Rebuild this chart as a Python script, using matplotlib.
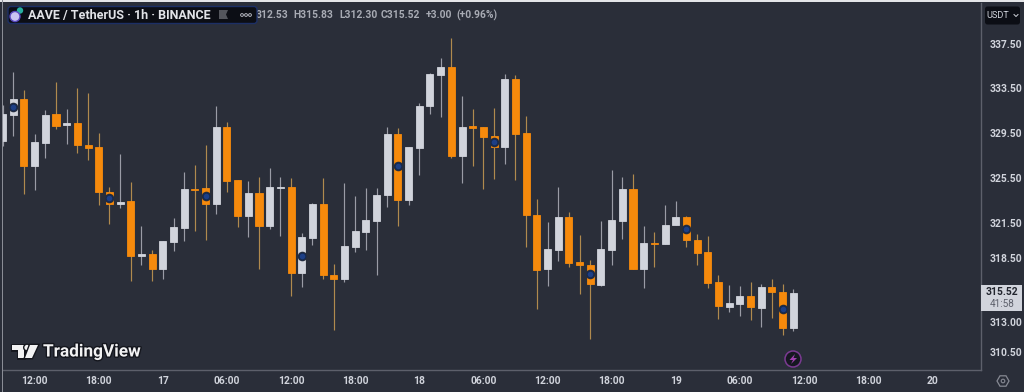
import matplotlib
matplotlib.use('Agg')
import matplotlib.pyplot as plt
import matplotlib.patheffects as pe
from matplotlib.patches import Circle, FancyBboxPatch, Polygon, Rectangle
import numpy as np

# hourly candles, 16th 09:00 .. 19th 11:00
opens = [328.75, 331.08, 332.51, 326.54, 328.58, 331.17, 330.19, 330.36, 328.40, 328.22,
         324.25, 323.19, 323.45, 318.68, 318.86, 317.57, 319.89, 321.11, 324.51, 324.60,
         323.19, 330.01, 325.30, 322.15, 324.16, 321.28, 324.60, 324.69, 317.22, 320.24,
         323.19, 317.05, 316.71, 319.46, 320.76, 321.72, 323.98, 329.38, 323.54, 328.13,
         331.88, 334.69, 335.41, 327.42, 330.10, 330.01, 329.20, 328.22, 334.32, 329.47,
         322.24, 317.57, 319.20, 322.06, 318.17, 317.91, 316.19, 319.20, 321.72, 324.51,
         317.57, 319.81, 319.72, 321.37, 322.06, 320.07, 319.03, 316.45, 314.31, 314.56,
         315.24, 314.22, 316.02, 315.59, 312.53]
highs = [331.97, 334.96, 333.33, 329.38, 331.53, 334.05, 331.62, 333.51, 333.05, 329.47,
         324.69, 327.60, 325.13, 321.28, 319.20, 319.98, 321.98, 326.01, 326.63, 328.40,
         331.88, 330.45, 325.30, 325.22, 325.57, 326.36, 325.57, 325.48, 320.68, 323.28,
         325.48, 318.00, 325.04, 323.89, 324.60, 324.60, 330.01, 329.92, 328.22, 332.15,
         334.87, 336.23, 338.04, 332.78, 331.62, 330.01, 331.70, 334.78, 334.69, 330.99,
         323.63, 321.63, 324.69, 322.50, 320.50, 318.34, 321.72, 326.19, 325.57, 325.83,
         321.28, 320.76, 323.11, 323.45, 322.15, 320.59, 320.42, 317.05, 316.19, 316.10,
         316.45, 316.28, 316.71, 316.28, 315.83]
lows = [328.31, 329.20, 324.07, 324.42, 327.24, 329.83, 328.49, 327.69, 327.07, 323.11,
        321.46, 322.85, 316.53, 317.91, 316.53, 316.71, 319.11, 319.98, 320.85, 320.07,
        322.32, 324.25, 321.20, 320.33, 317.57, 321.02, 320.42, 315.24, 316.02, 319.63,
        316.71, 312.36, 316.45, 319.03, 319.20, 317.05, 322.93, 321.28, 323.11, 325.75,
        331.17, 330.90, 327.24, 325.04, 326.54, 324.51, 325.39, 326.72, 325.30, 319.46,
        314.14, 316.10, 318.25, 317.74, 315.42, 311.60, 316.10, 317.91, 320.15, 317.57,
        315.93, 317.74, 319.72, 321.37, 319.46, 317.91, 315.93, 313.29, 313.88, 313.55,
        313.21, 312.62, 313.38, 311.94, 312.30]
closes = [331.17, 332.51, 326.54, 328.67, 331.08, 330.10, 330.36, 328.40, 328.13, 324.25,
          323.19, 323.37, 318.68, 318.86, 317.57, 319.98, 321.20, 324.51, 324.42, 323.19,
          330.01, 325.22, 322.15, 324.16, 321.28, 324.69, 324.69, 317.22, 320.33, 323.19,
          317.05, 316.71, 319.55, 320.85, 321.80, 323.98, 329.38, 323.54, 328.22, 331.88,
          334.78, 335.41, 327.42, 330.01, 329.92, 329.11, 328.22, 334.32, 329.38, 322.24,
          317.48, 319.29, 322.06, 318.08, 317.91, 316.28, 319.29, 321.80, 324.51, 317.57,
          319.81, 319.72, 321.37, 322.06, 320.07, 318.94, 316.36, 314.39, 314.65, 315.24,
          314.31, 316.02, 315.59, 312.53, 315.52]

event_idx = [1, 10, 19, 28, 37, 46, 55, 64, 73]
event_price = [331.79, 323.72, 323.89, 318.68, 326.54, 328.67, 317.14, 321.02, 314.14]

time_ticks = [3, 9, 15, 21, 27, 33, 39, 45, 51, 57, 63, 69, 75, 81, 87]
time_labels = ['12:00', '18:00', '17', '06:00', '12:00', '18:00', '18', '06:00', '12:00',
               '18:00', '19', '06:00', '12:00', '18:00', '20']
price_ticks = [337.5, 333.5, 329.5, 325.5, 321.5, 318.5, 313.0, 310.5]
last_price = closes[-1]
legend_items = ['312.53', 'H315.83', 'L312.30', 'C315.52', '+3.00', '(+0.96%)']
legend_x = [256, 293, 339, 381, 426, 456]

BG = '#2a2e39'
UP = '#d1d4dc'
DOWN = '#f68a0c'
TEXT = '#d1d4dc'
plt.rcParams['font.family'] = ['Roboto', 'DejaVu Sans']

fig = plt.figure(figsize=(10.24, 3.92), dpi=100, facecolor=BG)
ax = fig.add_axes([3 / 1024, 22 / 392, 978 / 1024, 367 / 392], facecolor=BG)

idx = np.arange(len(opens))
o, h, l, c = map(np.array, (opens, highs, lows, closes))
up = c >= o
colors = np.where(up, UP, DOWN)
wick_colors = np.where(up, '#9a9ca6', '#b08a4e')

ax.vlines(idx, l, h, colors=wick_colors, linewidth=0.85, zorder=2)
ax.bar(idx, np.abs(c - o), bottom=np.minimum(o, c), width=0.66, color=colors,
       edgecolor=colors, linewidth=0.6, zorder=3)
ax.scatter(event_idx, event_price, s=48, c=BG, linewidths=0, zorder=4)
ax.scatter(event_idx, event_price, s=24, c='#1d3f86', edgecolors='#16294f', linewidths=0.9, zorder=5)

ax.set_yscale('log')
ax.set_xlim(0.04, 91.57)
ax.set_ylim(308.99, 341.27)
ax.yaxis.tick_right()
ax.set_yticks(price_ticks)
ax.set_yticklabels([f'{p:.2f}' for p in price_ticks])
ax.yaxis.set_minor_locator(matplotlib.ticker.NullLocator())
ax.set_xticks(time_ticks)
ax.set_xticklabels(time_labels)
ax.tick_params(axis='both', length=0, colors=TEXT, labelsize=7.4)
ax.tick_params(axis='x', pad=4)
ax.tick_params(axis='y', pad=6)
for lab in ax.get_xticklabels() + ax.get_yticklabels():
    lab.set_fontweight('semibold')
for name in ('top', 'left'):
    ax.spines[name].set_visible(False)
for name in ('right', 'bottom'):
    ax.spines[name].set_color('#5d606b')
    ax.spines[name].set_linewidth(1)

# chart furniture on a pixel-sized overlay
ui = fig.add_axes([0, 0, 1, 1], facecolor='none')
ui.set_xlim(0, 1024)
ui.set_ylim(392, 0)
ui.axis('off')

ui.add_patch(Rectangle((0, 0), 1024, 1.6, color='#e4e5e8', lw=0))
ui.add_patch(Rectangle((1.8, 0), 1, 392, color='#8a8d96', lw=0))

for label, x in zip(legend_items, legend_x):
    ui.text(x, 15.3, label, color='#a8abb4', fontsize=7.4, fontweight='semibold', va='center', ha='left')

ui.add_patch(FancyBboxPatch((8, 6.5), 249, 17, boxstyle='round,pad=0,rounding_size=3',
                            fc='#0c0e15', ec='#1c2f66', lw=1, zorder=3))
ui.add_patch(Circle((20, 10.5), 3.2, color='#27b0a0', lw=0, zorder=4))
ui.add_patch(Circle((15, 16.5), 5, color='#c9c4f2', ec='#5a49c0', lw=1, zorder=4))
ui.text(28, 15.3, 'AAVE / TetherUS · 1h · BINANCE', color='#e2e3e8', fontsize=9.0,
        fontweight='semibold', va='center', ha='left', zorder=4)
ui.add_patch(Polygon([(219, 10), (228, 10), (226, 14.5), (228, 19), (219, 19)], color='#54565d', lw=0, zorder=4))
for dot_x in (242, 246, 250):
    ui.add_patch(Circle((dot_x, 15), 1.4, fc='none', ec='#b2b5be', lw=0.7, zorder=4))

ui.add_patch(FancyBboxPatch((985, 6.5), 35, 18, boxstyle='round,pad=0,rounding_size=2.5',
                            fc='#0c0e15', ec='none'))
ui.text(998, 15.5, 'USDT', color=TEXT, fontsize=6.6, va='center', ha='center')
ui.plot([1014, 1016, 1018], [14.5, 16.5, 14.5], color=TEXT, lw=0.7)

ui.add_patch(Rectangle((981, 285), 41, 26, color='#d1d4dc', lw=0))
ui.text(1002, 292, f'{last_price:.2f}', color='#22252e', fontsize=7.4, fontweight='semibold',
        va='center', ha='center')
ui.text(1002, 304, '41:58', color='#5d606b', fontsize=7.2, va='center', ha='center')

angles = np.deg2rad(np.arange(0, 360, 60))
ui.add_patch(Polygon(np.c_[1003 + 6 * np.cos(angles), 381 + 6 * np.sin(angles)], fc='none',
                     ec='#868993', lw=0.9))
ui.add_patch(Circle((1003, 381), 1.8, fc='none', ec='#868993', lw=0.8))

ui.add_patch(Circle((793, 359), 8, fc='#161821', ec='#7b3a92', lw=1.1))
ui.add_patch(Polygon([(795, 354), (789.5, 360), (793, 360), (791, 364), (797, 358), (793.5, 358)],
                     color='#a13fb0', lw=0))

logo = '#f2f2f3'
halo = [pe.withStroke(linewidth=2, foreground='#14161d')]
for part in (Polygon([(12, 345), (23.5, 345), (23.5, 358), (17.5, 358), (17.5, 350), (12, 350)], color=logo, lw=0),
             Circle((27, 347.5), 2.6, color=logo, lw=0),
             Polygon([(30, 345), (38, 345), (32, 358), (25, 358)], color=logo, lw=0)):
    part.set_path_effects(halo)
    ui.add_patch(part)
ui.text(43, 352, 'TradingView', color=logo, fontsize=12.4, fontweight='semibold', va='center', ha='left',
        path_effects=halo)

fig.savefig('out.png', dpi=100, facecolor=BG)
